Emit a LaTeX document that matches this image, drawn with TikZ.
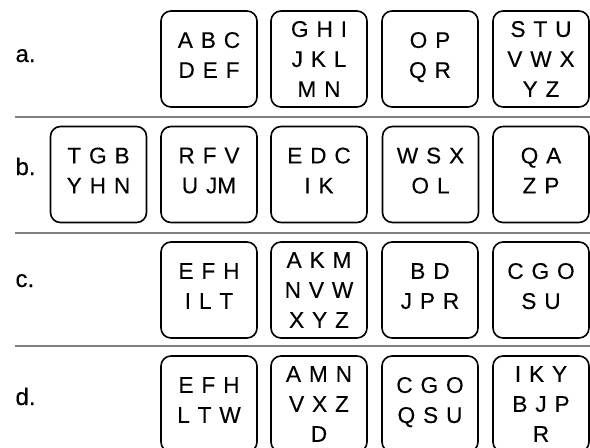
\documentclass[tikz,border=0pt]{standalone}
\usepackage{fontspec}
\setmainfont{Liberation Sans}[FakeBold=0.2]
\newfontfamily\keyfont[WordSpace=1.25,FakeBold=0.2]{Liberation Sans}

\begin{document}
\begin{tikzpicture}[x=0.75pt, y=-0.75pt, thick,
  keybox/.style={draw, line width=1.2pt, rounded corners=7.5pt, minimum width=72pt, minimum height=72pt,
    inner sep=0pt, align=center, font=\keyfont\fontsize{17}{22.5}\selectfont},
  twoline/.style={keybox, text depth=6pt},
  rowlabel/.style={anchor=base west, inner sep=0pt, font=\fontsize{18}{20}\selectfont}]
\clip (0,0) rectangle (590,447);
\foreach \y in {117,233,346}{\draw[gray, line width=1.1pt] (15,\y) -- (590,\y);}
% row a
\node[rowlabel] (la) at (15,62) {a.};
\node[twoline] (a1) at (209,59) {A B C\\D E F};
\node[keybox] (a2) at (319,59) {G H I\\J K L\\M N};
\node[twoline] (a3) at (430,59) {O P\\Q R};
\node[keybox] (a4) at (541,59) {S T U\\V W X\\Y Z};
% row b
\node[rowlabel] (lb) at (15,175) {b.};
\node[twoline] (b1) at (98.5,174.5) {T G B\\Y H N};
\node[twoline] (b2) at (209,174.5) {R F V\\U JM};
\node[twoline] (b3) at (319,174.5) {E D C\\I K};
\node[twoline] (b4) at (430.5,174.5) {W S X\\O L};
\node[twoline] (b5) at (541,174.5) {Q A\\Z P};
% row c
\node[rowlabel] (lc) at (15,287) {c.};
\node[twoline] (c1) at (209,290) {E F H\\I L T};
\node[keybox] (c2) at (319,290) {A K M\\N V W\\X Y Z};
\node[twoline] (c3) at (430,290) {B D\\J P R};
\node[twoline] (c4) at (541,290) {C G O\\S U};
% row d
\node[rowlabel] (ld) at (15,405) {d.};
\node[twoline] (d1) at (209,404) {E F H\\L T W};
\node[keybox] (d2) at (319,404) {A M N\\V X Z\\D};
\node[twoline] (d3) at (430,404) {C G O\\Q S U};
\node[keybox] (d4) at (541,404) {I K Y\\B J P\\R};
\end{tikzpicture}
\end{document}
